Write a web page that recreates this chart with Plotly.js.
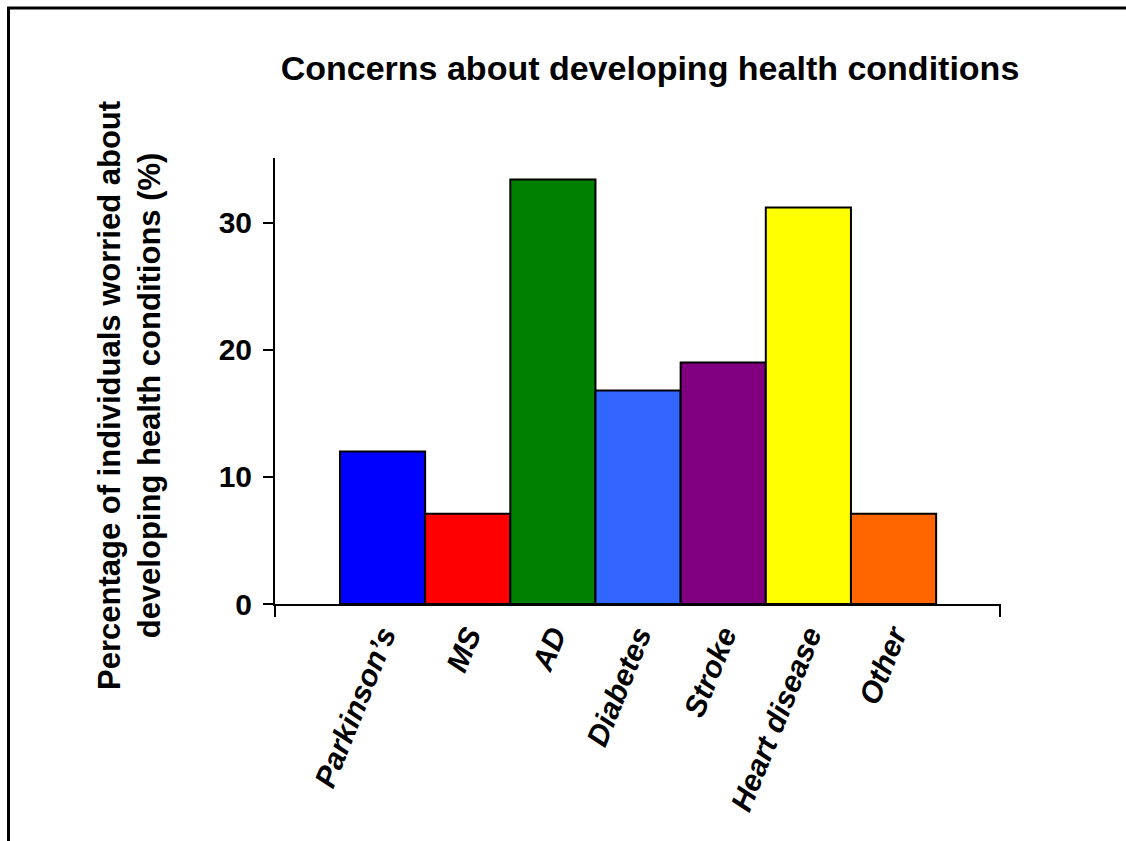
<!DOCTYPE html>
<html>
<head>
<meta charset="utf-8">
<script src="https://cdn.plot.ly/plotly-3.0.1.min.js"></script>
<style>
  html, body { margin: 0; padding: 0; background: #ffffff; }
  #chart { width: 1126px; height: 841px; }
</style>
</head>
<body>
<div id="chart"></div>
<script>
// Health conditions people worry about developing, share of respondents (%)
const categories = ["Parkinson’s", "MS", "AD", "Diabetes", "Stroke", "Heart disease", "Other"];
const percentages = [12.0, 7.1, 33.4, 16.8, 19.0, 31.2, 7.1];
const barColors = ["#0000FF", "#FF0000", "#008000", "#3366FF", "#800080", "#FFFF00", "#FF6600"];
const yTickValues = [0, 10, 20, 30];

const W = 1126, H = 841;
const M = { l: 275, r: 126, t: 158, b: 237 };
const plotW = W - M.l - M.r, plotH = H - M.t - M.b;
const px = x => (x - M.l) / plotW;          // pixel x -> paper x
const py = y => (H - M.b - y) / plotH;      // pixel y -> paper y

const font = "Arial, 'Liberation Sans', sans-serif";

const trace = {
  type: "bar",
  x: categories,
  y: percentages,
  marker: { color: barColors, line: { color: "#000000", width: 2 } },
  hoverinfo: "x+y"
};

const layout = {
  width: W,
  height: H,
  margin: M,
  paper_bgcolor: "#ffffff",
  plot_bgcolor: "#ffffff",
  showlegend: false,
  bargap: 0,
  font: { family: font, color: "#000000" },
  title: {
    text: "<b>Concerns about developing health conditions</b>",
    font: { family: font, size: 34, color: "#000000" },
    x: px(650), xref: "paper", xanchor: "center",
    y: 1 - 68 / H, yref: "container", yanchor: "middle"
  },
  xaxis: {
    type: "category",
    range: [-1.263, 7.25],
    showgrid: false,
    zeroline: false,
    showline: true,
    linecolor: "#000000",
    linewidth: 2,
    ticks: "",
    tickangle: -68,
    tickfont: { family: font, size: 30, color: "#000000", weight: "bold", style: "italic" },
    fixedrange: true
  },
  yaxis: {
    range: [0, 35.1],
    tickvals: yTickValues,
    ticktext: yTickValues.map(String),
    showgrid: false,
    zeroline: false,
    showline: true,
    linecolor: "#000000",
    linewidth: 2,
    ticks: "outside",
    ticklen: 10,
    tickwidth: 2,
    tickcolor: "#000000",
    ticklabelstandoff: 5,
    tickfont: { family: font, size: 30, color: "#000000", weight: "bold" },
    fixedrange: true
  },
  annotations: [
    {
      // y-axis title
      text: "<b>Percentage of individuals worried about<br>developing health conditions (%)</b>",
      font: { family: font, size: 31, color: "#000000" },
      textangle: -90,
      xref: "paper", yref: "paper",
      x: px(129), y: py(396),
      xanchor: "center", yanchor: "middle",
      showarrow: false
    }
  ],
  shapes: [
    // end tick marks on the category axis
    { type: "line", xref: "x domain", yref: "paper", x0: 0, x1: 0, y0: 0, y1: py(617),
      line: { color: "#000000", width: 2 } },
    { type: "line", xref: "x domain", yref: "paper", x0: 1, x1: 1, y0: 0, y1: py(617),
      line: { color: "#000000", width: 2 } },
    // frame around the figure
    { type: "line", xref: "paper", yref: "paper", x0: px(7), x1: px(1130), y0: py(8), y1: py(8),
      line: { color: "#000000", width: 3 } },
    { type: "line", xref: "paper", yref: "paper", x0: px(8.5), x1: px(8.5), y0: py(7), y1: py(845),
      line: { color: "#000000", width: 3 } }
  ]
};

Plotly.newPlot("chart", [trace], layout, { displayModeBar: false, staticPlot: true });
</script>
</body>
</html>
